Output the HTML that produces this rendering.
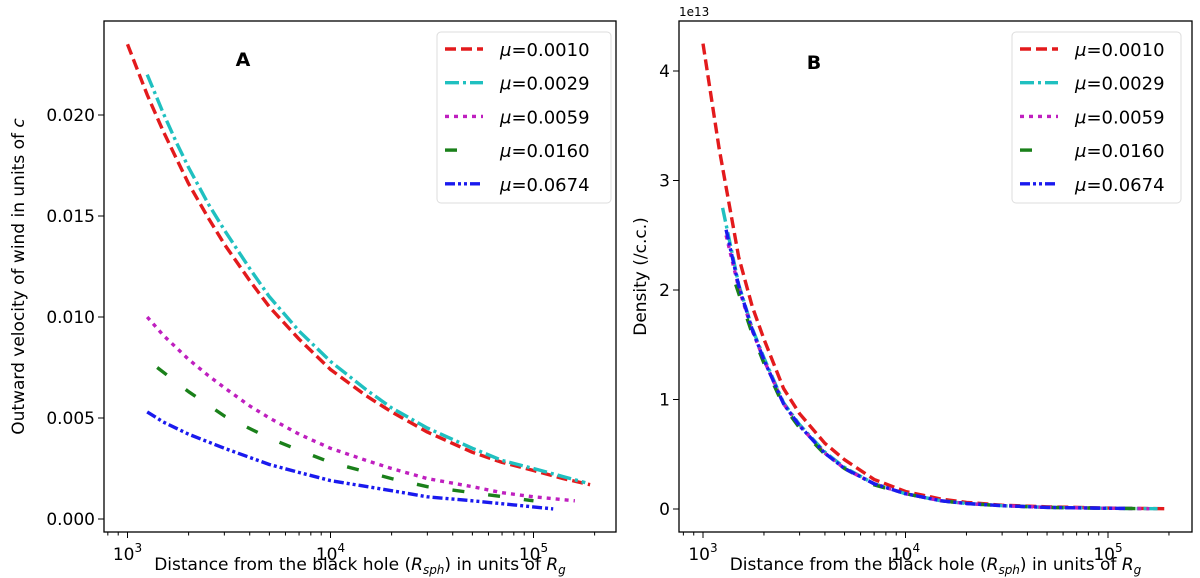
<!DOCTYPE html>
<html><head><meta charset="utf-8"><style>
body{margin:0;background:#fff}
svg{display:block;font-family:"DejaVu Sans","Liberation Sans",sans-serif}
</style></head><body>
<svg id="chart" width="1200" height="578" viewBox="0 0 1200 578"></svg>
<script>
const labels=["μ=0.0010","μ=0.0029","μ=0.0059","μ=0.0160","μ=0.0674"];
const colors=["#e31a1c","#1fc0c0","#bf1fbf","#1a801a","#1a1aee"];
const dashes=["11,5","14,4,3,4","4,5","12,24","10,3,3,3,3,3"];
const legendDash=["11,5","14,4,3,4","4,5","12,30","10,3,3,3,3,3"];
// panel A: velocity
const rRed=[1000,1250,1500,1750,2000,2500,3000,4000,5000,7000,10000,15000,20000,30000,50000,70000,100000,140000,190000];
const vRed=[0.0235,0.0210,0.0192,0.0178,0.0166,0.0149,0.0136,0.0118,0.0105,0.0089,0.0074,0.0061,0.0053,0.0043,0.0033,0.0028,0.0024,0.0020,0.0017];
const rCyan=[1250,1500,1750,2000,2500,3000,4000,5000,7000,10000,15000,20000,30000,50000,70000,100000,140000,180000];
const vCyan=[0.0220,0.0201,0.0186,0.0174,0.0156,0.0143,0.0124,0.0110,0.0093,0.0078,0.0064,0.0055,0.0045,0.0035,0.0029,0.0025,0.0021,0.0018];
const rMag=[1250,1500,2000,2500,3000,4000,5000,7000,10000,15000,20000,30000,50000,70000,100000,160000];
const vMag=[0.0100,0.0091,0.0079,0.0071,0.0065,0.0056,0.0050,0.0042,0.0035,0.0029,0.0025,0.0020,0.0016,0.0013,0.0011,0.0009];
const rGreen=[1400,2000,3000,5000,7000,10000,20000,30000,50000,100000];
const vGreen=[0.0075,0.0063,0.0051,0.0040,0.0034,0.0028,0.0020,0.0016,0.0013,0.0009];
const rBlue=[1250,1500,2000,3000,5000,7000,10000,20000,30000,50000,80000,125000];
const vBlue=[0.0053,0.0048,0.0042,0.0035,0.0027,0.0023,0.0019,0.0014,0.0011,0.0009,0.0007,0.0005];
// panel B: density (1e13 /c.c.)
const drRed=[1000,1200,1500,1750,2000,2500,3000,4000,5000,7000,10000,15000,20000,30000,50000,100000,190000];
const dRed=[4.25,3.3,2.3,1.85,1.55,1.1,0.87,0.6,0.45,0.27,0.16,0.09,0.06,0.035,0.02,0.008,0.003];
const drCyan=[1250,1500,1750,2000,2500,3000,4000,5000,7000,10000,15000,20000,30000,50000,100000,180000];
const dCyan=[2.75,2.05,1.65,1.38,0.97,0.77,0.52,0.38,0.23,0.14,0.075,0.05,0.03,0.015,0.006,0.003];
const drMag=[1300,1500,1750,2000,2500,3000,4000,5000,7000,10000,15000,20000,30000,50000,100000,160000];
const dMag=[2.5,2.02,1.63,1.36,0.96,0.76,0.51,0.37,0.23,0.14,0.075,0.05,0.03,0.015,0.006,0.003];
const drGreen=[1450,1750,2000,2500,3000,4000,5000,7000,10000,15000,20000,30000,50000,100000,140000];
const dGreen=[2.05,1.6,1.33,0.94,0.74,0.5,0.37,0.22,0.14,0.075,0.05,0.03,0.015,0.006,0.004];
const drBlue=[1300,1500,1750,2000,2500,3000,4000,5000,7000,10000,15000,20000,30000,50000,125000];
const dBlue=[2.55,2.04,1.64,1.36,0.96,0.76,0.51,0.37,0.23,0.14,0.075,0.05,0.03,0.015,0.005];
const vTicks=[0,0.005,0.010,0.015,0.020];
const vTickLabels=["0.000","0.005","0.010","0.015","0.020"];
const dTicks=[0,1,2,3,4];
const dTickLabels=["0","1","2","3","4"];

const NS="http://www.w3.org/2000/svg";
const svg=document.getElementById('chart');
function mk(tag,at,parent){const e=document.createElementNS(NS,tag);for(const k in at)e.setAttribute(k,at[k]);(parent||svg).appendChild(e);return e;}

function panel(P){
  const g=mk('g',{});
  
  
  const xs=r=>P.x3+(Math.log10(r)-3)*P.dec;
  const ys=v=>P.y0-v*P.yk;
  P.series.forEach((s,i)=>{
    const d=s[0].map((r,j)=>(j?'L':'M')+xs(r).toFixed(1)+','+ys(s[1][j]).toFixed(1)).join(' ');
    const p=mk('path',{d:d,fill:'none',stroke:colors[i],'stroke-width':3.4,'stroke-dasharray':dashes[i],'stroke-linejoin':'round'},g);
    
    
  });
  const fr=mk('rect',{x:P.L,y:P.T,width:P.R-P.L,height:P.B-P.T,fill:'none',stroke:'#000','stroke-width':1.3},g);
  
  
  for(let e=2;e<=5;e++){for(let m=1;m<10;m++){const r=m*Math.pow(10,e);const x=xs(r);if(x<P.L||x>P.R)continue;
    mk('line',{x1:x,x2:x,y1:P.B,y2:P.B+(m==1?6:3.5),stroke:'#000','stroke-width':1},g);
    if(m==1){const t=mk('text',{x:x,y:P.B+28,'text-anchor':'middle','font-size':17},g);t.innerHTML='10<tspan dy="-8" font-size="12">'+e+'</tspan>';
      
      }
  }}
  P.ticks.forEach((v,i)=>{const y=ys(v);mk('line',{x1:P.L-6,x2:P.L,y1:y,y2:y,stroke:'#000','stroke-width':1},g);
    const t=mk('text',{x:P.L-9,y:y+6,'text-anchor':'end','font-size':17},g);t.textContent=P.tickLabels[i];
    
    });
  const xt=mk('text',{x:(P.L+P.R)/2,y:570,'text-anchor':'middle','font-size':17},g);
  xt.innerHTML='Distance from the black hole (<tspan font-style="italic">R</tspan><tspan font-style="italic" font-size="12" dy="4">sph</tspan><tspan dy="-4">) in units of </tspan><tspan font-style="italic">R</tspan><tspan font-style="italic" font-size="12" dy="4">g</tspan>';
  
  
  const yt=mk('text',{x:0,y:0,'text-anchor':'middle','font-size':17,transform:'translate('+P.ytx+','+((P.T+P.B)/2)+') rotate(-90)'},g);
  yt.innerHTML=P.ytitle;
  
  
  const pl=mk('text',{x:P.lx,y:P.ly,'text-anchor':'middle','font-size':19,'font-weight':'bold'},g);pl.textContent=P.letter;
  
  
  if(P.exp){const ex=mk('text',{x:P.L,y:16,'font-size':12},g);ex.textContent=P.exp;
    
    }
  const lg=mk('g',{},g);
  
  
  mk('rect',{x:P.lgx,y:32,width:P.lgw,height:171,rx:4,fill:'#fff',stroke:'#ddd','stroke-width':1},lg);
  labels.forEach((l,i)=>{const y=49+i*33.7;
    const e=mk('g',{},lg);
    
    
    mk('line',{x1:P.lgx+8,x2:P.lgx+46,y1:y,y2:y,stroke:colors[i],'stroke-width':3.4,'stroke-dasharray':legendDash[i]},e);
    const t=mk('text',{x:P.lgx+63,y:y+7,'font-size':18},e);t.innerHTML='<tspan font-style="italic">μ</tspan>'+l.slice(1);
  });
}
panel({name:'panel-a-velocity',L:104,R:616,T:21,B:532,x3:127.5,dec:203,y0:519,yk:20200,
  series:[[rRed,vRed],[rCyan,vCyan],[rMag,vMag],[rGreen,vGreen],[rBlue,vBlue]],
  ticks:vTicks,tickLabels:vTickLabels,ytx:24,ytitle:'Outward velocity of wind in units of <tspan font-style="italic">c</tspan>',
  letter:'A',lx:243,ly:66,lgx:437,lgw:174});
panel({name:'panel-b-density',L:679,R:1192,T:21,B:532,x3:703,dec:202.5,y0:509,yk:109.5,
  series:[[drRed,dRed],[drCyan,dCyan],[drMag,dMag],[drGreen,dGreen],[drBlue,dBlue]],
  ticks:dTicks,tickLabels:dTickLabels,ytx:646,ytitle:'Density (/c.c.)',
  letter:'B',lx:814,ly:69,lgx:1012,lgw:169,exp:'1e13'});
</script>
</body></html>
